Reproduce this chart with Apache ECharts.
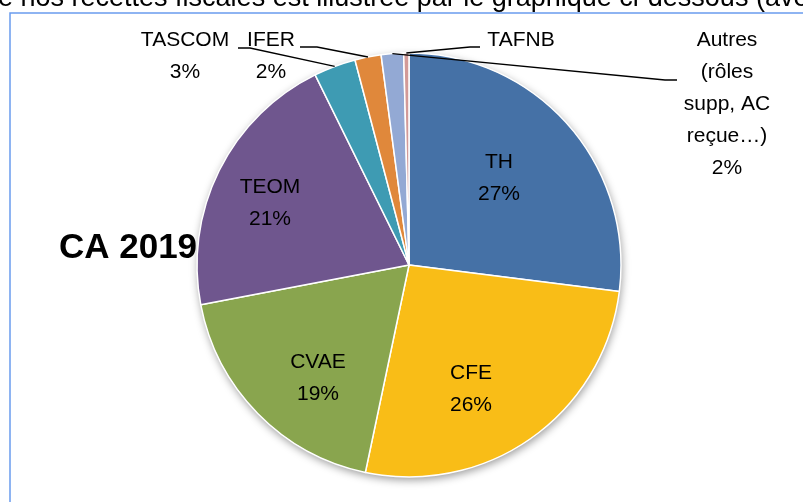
<!DOCTYPE html>
<html>
<head>
<meta charset="utf-8">
<script src="https://cdn.jsdelivr.net/npm/echarts@6/dist/echarts.min.js"></script>
<style>
  html, body { margin: 0; padding: 0; background: #fff; }
  #main { width: 803px; height: 502px; }
</style>
</head>
<body>
<div id="main"></div>
<script>
// recettes fiscales CA 2019, parts en %
const categories = ['TH', 'CFE', 'CVAE', 'TEOM', 'TASCOM', 'IFER', 'Autres\n(rôles\nsupp, AC\nreçue…)', 'TAFNB']
const shares = [27.0, 26.3, 18.7, 20.7, 3.2, 2.0, 1.7, 0.4]
const colors = ['#4571a6', '#f9bd17', '#89a54e', '#6f568e', '#3e9bb3', '#e0883b', '#93a9d4', '#d29a98']

// label block centres; bend/end = leader line for the small slices
const labelPlaces = [
  { x: 499, y: 178 },
  { x: 471, y: 389 },
  { x: 318, y: 378 },
  { x: 270, y: 203 },
  { x: 185, y: 56, bend: [250, 48], end: [238, 48] },
  { x: 271, y: 56, bend: [317, 47], end: [300, 47] },
  { x: 727, y: 104, bend: [665, 80], end: [677, 80] },
  { x: 521, y: 40, bend: [470, 47], end: [480, 47] }
]

const myChart = echarts.init(document.getElementById('main'))

const pieCenter = [409, 265]
const pieRadius = 212

// visible slices
const sliceData = categories.map((name, i) => ({
  name: name,
  value: shares[i],
  itemStyle: { color: colors[i] }
}))

// same slices, transparent, only used to carry labels + leader lines on top
const labelData = categories.map((name, i) => {
  const outside = !!labelPlaces[i].bend
  return {
    name: name,
    value: shares[i],
    label: { position: outside ? 'outside' : 'inside' },
    labelLine: { show: outside }
  }
})

myChart.setOption({
  animation: false,
  graphic: [
    {
      type: 'text',
      x: -2,
      y: 12,
      style: {
        text: 'e nos recettes fiscales est illustrée par le graphique ci-dessous (avec',
        font: '27px "Liberation Sans", Arial, sans-serif',
        fill: '#000',
        verticalAlign: 'bottom'
      }
    },
    {
      type: 'rect',
      shape: { x: 10, y: 13, width: 900, height: 600 },
      style: { fill: 'none', stroke: '#6a9cee', lineWidth: 1.5 }
    },
    {
      type: 'text',
      x: 128,
      y: 248,
      style: {
        text: 'CA 2019',
        font: 'bold 35px "Liberation Sans", Arial, sans-serif',
        fill: '#000',
        align: 'center',
        verticalAlign: 'middle'
      }
    }
  ],
  series: [
    {
      // soft shadow under the whole pie
      type: 'pie',
      silent: true,
      center: pieCenter,
      radius: pieRadius,
      z: 1,
      label: { show: false },
      labelLine: { show: false },
      data: [{
        value: 1,
        itemStyle: { color: '#fff', shadowBlur: 8, shadowColor: 'rgba(0,0,0,0.4)', shadowOffsetY: 3, shadowOffsetX: 1 }
      }]
    },
    {
      type: 'pie',
      center: pieCenter,
      radius: pieRadius,
      startAngle: 90,
      clockwise: true,
      z: 2,
      itemStyle: { borderColor: '#fff', borderWidth: 1.5 },
      label: { show: false },
      labelLine: { show: false },
      data: sliceData
    },
    {
      type: 'pie',
      silent: true,
      center: pieCenter,
      radius: pieRadius,
      startAngle: 90,
      clockwise: true,
      z: 3,
      itemStyle: { color: 'rgba(0,0,0,0)', borderWidth: 0 },
      label: {
        fontFamily: '"Liberation Sans", Arial, sans-serif',
        fontSize: 21,
        lineHeight: 32,
        color: '#000',
        align: 'center',
        formatter: p => {
          const pct = Math.round(p.percent)
          return pct > 0 ? p.name + '\n' + pct + '%' : p.name
        }
      },
      labelLine: { lineStyle: { color: '#000', width: 1.3 } },
      labelLayout: params => {
        const place = labelPlaces[params.dataIndex]
        const out = { x: place.x, y: place.y, align: 'center', verticalAlign: 'middle' }
        if (place.bend && params.labelLinePoints) {
          out.labelLinePoints = [params.labelLinePoints[0], place.bend, place.end]
        }
        return out
      },
      data: labelData
    }
  ]
})
</script>
</body>
</html>
